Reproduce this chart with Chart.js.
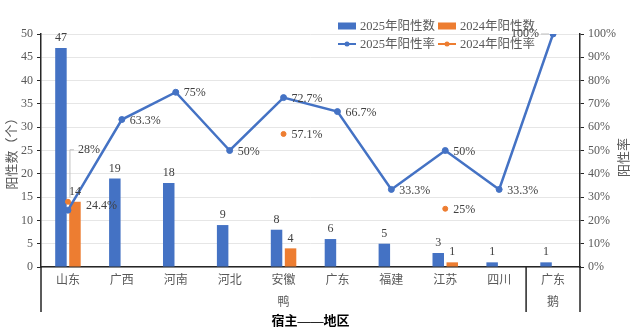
<!DOCTYPE html>
<html>
<head>
<meta charset="utf-8">
<script src="https://cdn.jsdelivr.net/npm/chart.js@4/dist/chart.umd.min.js"></script>
<style>
  html, body { margin: 0; padding: 0; background: #fff; }
  #wrap { position: relative; width: 640px; height: 332px; }
</style>
</head>
<body>
<div id="wrap"><canvas id="grafik" width="640" height="332"></canvas></div>
<script>
// ── Data ────────────────────────────────────────────────
const regions = ['山东', '广西', '河南', '河北', '安徽', '广东', '福建', '江苏', '四川', '广东'];
const hostNames = ['鸭', '鹅'];
const hostLastIndex = [8, 9];           // last category index of each host group
const count2025 = [47, 19, 18, 9, 8, 6, 5, 3, 1, 1];
const count2024 = [14, null, null, null, 4, null, null, 1, null, null];
const rate2025 = [24.4, 63.3, 75, 50, 72.7, 66.7, 33.3, 50, 33.3, 100];
const rate2024 = [28, null, null, null, 57.1, null, null, 25, null, null];
const countTicks = { min: 0, max: 50, step: 5 };
const rateTicks = { min: 0, max: 100, step: 10 };

const BIRU = '#4472C4';
const ORANYE = '#ED7D31';
const FONT = "'Liberation Serif', 'Noto Sans CJK SC', serif";
const TEKS = '#595959';

// ── Plugin: label nilai, legenda, sumbu kategori bertingkat ──
const pluginHiasan = {
  id: 'hiasan',
  afterDatasetsDraw(chart) {
    const ctx = chart.ctx;
    ctx.save();
    ctx.font = '12px ' + FONT;
    ctx.fillStyle = '#404040';
    chart.data.datasets.forEach(function (ds, di) {
      const meta = chart.getDatasetMeta(di);
      meta.data.forEach(function (el, i) {
        const v = ds.data[i];
        if (v === null || v === undefined) return;
        if (ds.type === 'bar') {
          ctx.textAlign = 'center';
          ctx.textBaseline = 'bottom';
          ctx.fillText(String(v), el.x, el.y - 4);
        } else {
          const teks = v + '%';
          ctx.textBaseline = 'middle';
          if (di === 2 && i === regions.length - 1) {
            // label kiri dengan garis penunjuk
            ctx.textAlign = 'right';
            ctx.fillText(teks, el.x - 14, el.y);
            ctx.strokeStyle = '#bfbfbf'; ctx.lineWidth = 1;
            ctx.beginPath(); ctx.moveTo(el.x - 12, el.y); ctx.lineTo(el.x - 4, el.y); ctx.stroke();
          } else if (di === 3 && i === 0) {
            // label di atas dengan garis penunjuk
            const ly = el.y - 52;
            ctx.textAlign = 'left';
            ctx.fillText(teks, el.x + 10, ly);
            ctx.strokeStyle = '#bfbfbf'; ctx.lineWidth = 1;
            ctx.beginPath();
            ctx.moveTo(el.x + 6, ly); ctx.lineTo(el.x + 2, ly);
            ctx.lineTo(el.x + 2, el.y - 4);
            ctx.stroke();
          } else if (di === 2 && i === 0) {
            ctx.textAlign = 'left';
            ctx.fillText(teks, el.x + 18, el.y - 4);
          } else {
            ctx.textAlign = 'left';
            ctx.fillText(teks, el.x + 8, el.y + 1);
          }
        }
      });
    });
    ctx.restore();
  },
  afterDraw(chart) {
    const ctx = chart.ctx;
    const x = chart.scales.x;
    const area = chart.chartArea;
    const bawah = area.bottom + 45;
    ctx.save();
    // garis sumbu yang memanjang & pemisah kelompok
    ctx.strokeStyle = '#262626'; ctx.lineWidth = 1.5;
    ctx.beginPath();
    ctx.moveTo(area.left, area.bottom); ctx.lineTo(area.left, bawah);
    ctx.moveTo(area.right, area.bottom); ctx.lineTo(area.right, bawah);
    hostLastIndex.slice(0, -1).forEach(function (idx) {
      const px = (x.getPixelForValue(idx) + x.getPixelForValue(idx + 1)) / 2;
      ctx.moveTo(px, area.bottom); ctx.lineTo(px, bawah);
    });
    ctx.stroke();
    // nama inang
    ctx.font = '12px ' + FONT;
    ctx.fillStyle = TEKS;
    ctx.textAlign = 'center'; ctx.textBaseline = 'middle';
    let mulai = 0;
    hostNames.forEach(function (nama, k) {
      const akhir = hostLastIndex[k];
      const cx = (x.getPixelForValue(mulai) + x.getPixelForValue(akhir)) / 2;
      ctx.fillText(nama, cx, area.bottom + 36);
      mulai = akhir + 1;
    });
    // judul sumbu kanan
    ctx.save();
    ctx.translate(625, (area.top + area.bottom) / 2 + 7);
    ctx.rotate(-Math.PI / 2);
    ctx.font = '13px ' + FONT;
    ctx.fillStyle = TEKS;
    ctx.fillText('阳性率', 0, 0);
    ctx.restore();
    // legenda 2x2
    ctx.font = '12.5px ' + FONT;
    ctx.textAlign = 'left'; ctx.textBaseline = 'middle';
    chart.data.datasets.forEach(function (ds, di) {
      const lx = 338 + (di % 2) * 100;
      const ly = 26 + Math.floor(di / 2) * 18;
      const warna = ds.borderColor || ds.backgroundColor;
      if (ds.type === 'bar') {
        ctx.fillStyle = ds.backgroundColor;
        ctx.fillRect(lx, ly - 3.5, 18, 7);
      } else {
        ctx.strokeStyle = warna; ctx.lineWidth = 2;
        ctx.beginPath(); ctx.moveTo(lx, ly); ctx.lineTo(lx + 18, ly); ctx.stroke();
        ctx.fillStyle = warna;
        ctx.beginPath(); ctx.arc(lx + 9, ly, 2.5, 0, Math.PI * 2); ctx.fill();
      }
      ctx.fillStyle = TEKS;
      ctx.fillText(ds.label, lx + 22, ly + 1);
    });
    ctx.restore();
  }
};

// ── Grafik ───────────────────────────────────────────────
new Chart(document.getElementById('grafik').getContext('2d'), {
  type: 'bar',
  data: {
    labels: regions,
    datasets: [{
      type: 'bar', label: '2025年阳性数', data: count2025,
      backgroundColor: BIRU, yAxisID: 'y', order: 2,
      categoryPercentage: 0.52, barPercentage: 0.82
    }, {
      type: 'bar', label: '2024年阳性数', data: count2024,
      backgroundColor: ORANYE, yAxisID: 'y', order: 2,
      categoryPercentage: 0.52, barPercentage: 0.82
    }, {
      type: 'line', label: '2025年阳性率', data: rate2025,
      borderColor: BIRU, backgroundColor: BIRU, borderWidth: 2.5,
      pointRadius: 3, pointBorderWidth: 1, pointHoverRadius: 3, tension: 0, yAxisID: 'y1', order: 1
    }, {
      type: 'line', label: '2024年阳性率', data: rate2024,
      borderColor: ORANYE, backgroundColor: ORANYE, borderWidth: 2.5,
      pointRadius: 2.5, pointBorderWidth: 1, pointHoverRadius: 2.5, spanGaps: false, yAxisID: 'y1', order: 0
    }]
  },
  options: {
    responsive: false, animation: false,
    layout: { padding: { top: 34, left: 0, right: 0, bottom: 0 } },
    plugins: { legend: { display: false }, tooltip: { enabled: false } },
    scales: {
      x: {
        afterFit: function (s) { s.height = 65; },
        grid: { display: false, drawTicks: false },
        border: { display: true, color: '#262626', width: 1.5 },
        ticks: { padding: 7, color: TEKS, font: { family: FONT, size: 12 }, maxRotation: 0, autoSkip: false },
        title: { display: true, text: '宿主——地区', color: '#000', font: { family: FONT, size: 13, weight: 'bold' }, padding: { top: 0, bottom: 3 } }
      },
      y: {
        position: 'left', min: countTicks.min, max: countTicks.max,
        afterFit: function (s) { s.width = 41; },
        ticks: { stepSize: countTicks.step, color: TEKS, padding: 4, font: { family: FONT, size: 12 } },
        grid: { color: '#e6e6e6', tickColor: '#262626', tickLength: 4 },
        border: { display: true, color: '#262626', width: 1.5 },
        title: { display: true, text: '阳性数（个）', color: TEKS, font: { family: FONT, size: 13 }, padding: { top: 5, bottom: 0 } }
      },
      y1: {
        position: 'right', min: rateTicks.min, max: rateTicks.max,
        afterFit: function (s) { s.width = 60; },
        ticks: { stepSize: rateTicks.step, color: TEKS, padding: 4, font: { family: FONT, size: 12 },
                 callback: function (v) { return v + '%'; } },
        grid: { drawOnChartArea: false, tickColor: '#262626', tickLength: 4 },
        border: { display: true, color: '#262626', width: 1.5 }
      }
    }
  },
  plugins: [pluginHiasan]
});
</script>
</body>
</html>
